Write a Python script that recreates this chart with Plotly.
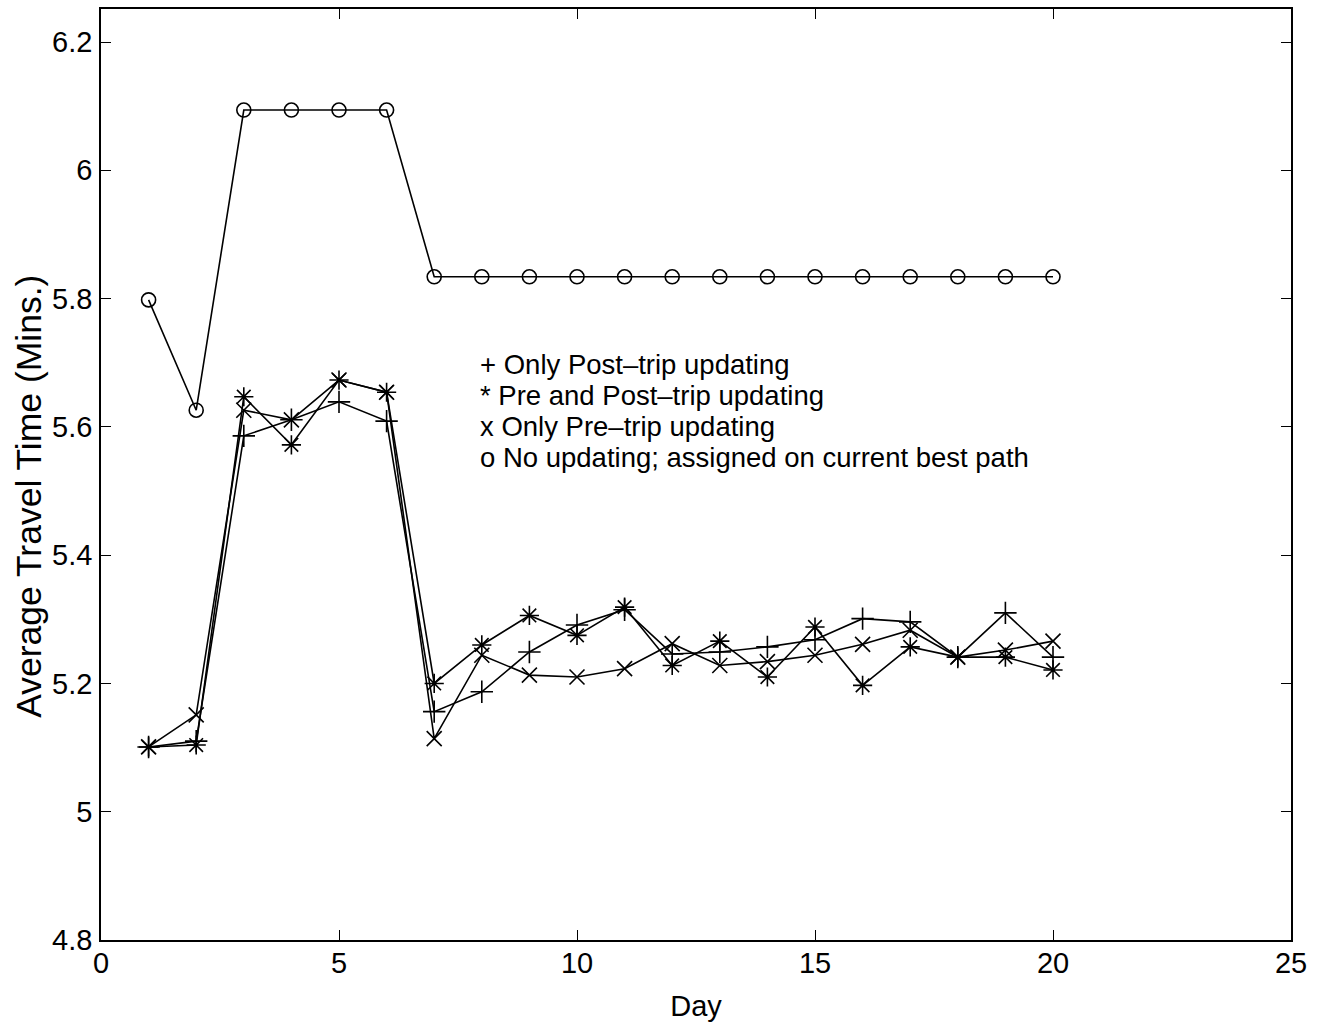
import plotly.graph_objects as go

days = list(range(1, 21))
post_only = [5.101, 5.110, 5.586, 5.611, 5.639, 5.609, 5.156, 5.187, 5.249, 5.291,
             5.315, 5.246, 5.249, 5.257, 5.268, 5.301, 5.296, 5.241, 5.310, 5.241]
pre_post = [5.101, 5.104, 5.647, 5.572, 5.673, 5.654, 5.200, 5.260, 5.306, 5.275,
            5.319, 5.228, 5.266, 5.210, 5.288, 5.197, 5.257, 5.241, 5.241, 5.221]
pre_only = [5.101, 5.151, 5.626, 5.611, 5.673, 5.654, 5.114, 5.244, 5.213, 5.210,
            5.223, 5.262, 5.228, 5.234, 5.244, 5.261, 5.283, 5.241, 5.252, 5.266]
no_update = [5.798, 5.626, 6.094, 6.094, 6.094, 6.094] + [5.834] * 14

legend_lines = ["+ Only Post\u2013trip updating",
                "* Pre and Post\u2013trip updating",
                "x Only Pre\u2013trip updating",
                "o No updating; assigned on current best path"]
legend_y = [5.697, 5.6487, 5.6004, 5.5521]

x_ticks = [0, 5, 10, 15, 20, 25]
y_ticks = [4.8, 5.0, 5.2, 5.4, 5.6, 5.8, 6.0, 6.2]
y_tick_text = ["4.8", "5", "5.2", "5.4", "5.6", "5.8", "6", "6.2"]

FONT = "Liberation Sans, Arial, Helvetica, sans-serif"
fig = go.Figure()

series = [
    (post_only, "cross-thin-open", 16),
    (pre_only, "x-thin-open", 15),
    (pre_post, "asterisk-open", 16),
    (no_update, "circle-open", 14),
]
for ys, sym, sz in series:
    fig.add_trace(go.Scatter(
        x=days, y=ys, mode="lines+markers",
        line=dict(color="black", width=1.6),
        marker=dict(symbol=sym, size=sz, color="black",
                    line=dict(color="black", width=1.6)),
        showlegend=False,
    ))

for txt, yv in zip(legend_lines, legend_y):
    fig.add_annotation(x=7.95, y=yv, xref="x", yref="y", text=txt,
                       showarrow=False, xanchor="left", yanchor="middle",
                       borderpad=0,
                       font=dict(family=FONT, size=27.5, color="black"))

# y-axis title
fig.add_annotation(x=0, y=0.476, xref="paper", yref="paper",
                   text="Average Travel Time (Mins.)", textangle=-90,
                   showarrow=False, xanchor="center", yanchor="middle",
                   xshift=-72, borderpad=0,
                   font=dict(family=FONT, size=35.5, color="black"))

axis_common = dict(showgrid=False, zeroline=False, showline=True, linecolor="black",
                   linewidth=1.5, mirror="ticks", ticks="inside", ticklen=10,
                   tickcolor="black", tickwidth=1.2,
                   tickfont=dict(family=FONT, size=29, color="black"))

fig.update_xaxes(range=[0, 25], tickvals=x_ticks, ticktext=[str(v) for v in x_ticks],
                 ticklabelstandoff=-4,
                 title=dict(text="Day", font=dict(family=FONT, size=29, color="black"),
                            standoff=18),
                 **axis_common)
fig.update_yaxes(range=[4.8, 6.2515], tickvals=y_ticks, ticktext=y_tick_text,
                 ticklabelstandoff=1,
                 **axis_common)

fig.update_layout(width=1323, height=1025, plot_bgcolor="white", paper_bgcolor="white",
                  margin=dict(l=101, r=32, t=7, b=85))

fig.write_html("out.html")
